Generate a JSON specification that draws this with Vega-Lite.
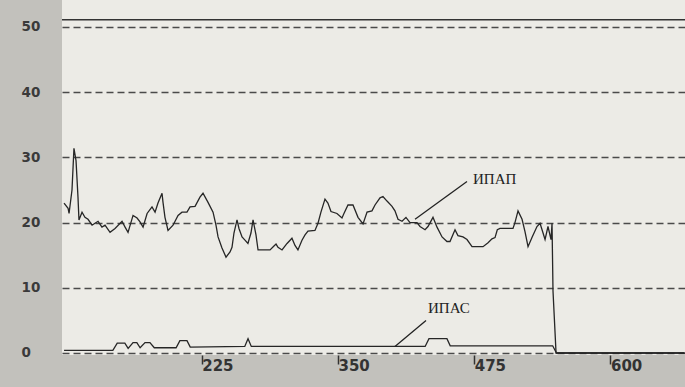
{
  "$schema": "https://vega.github.io/schema/vega-lite/v6.json",
  "width": 623,
  "height": 355,
  "autosize": {"type": "none"},
  "padding": {"left": 62, "top": 0, "right": 0, "bottom": 32},
  "background": "#c2c1bc",
  "config": {
    "view": {"fill": "#ecebe6", "stroke": null},
    "font": "DejaVu Sans"
  },
  "datasets": {
    "series": [
      {"t": 98.7, "v": 23.0, "s": "ИПАП"},
      {"t": 102.4, "v": 22.2, "s": "ИПАП"},
      {"t": 103.3, "v": 21.4, "s": "ИПАП"},
      {"t": 106.0, "v": 25.0, "s": "ИПАП"},
      {"t": 107.8, "v": 31.4, "s": "ИПАП"},
      {"t": 109.7, "v": 29.5, "s": "ИПАП"},
      {"t": 111.5, "v": 23.9, "s": "ИПАП"},
      {"t": 112.4, "v": 20.4, "s": "ИПАП"},
      {"t": 115.2, "v": 21.6, "s": "ИПАП"},
      {"t": 117.9, "v": 20.8, "s": "ИПАП"},
      {"t": 120.7, "v": 20.5, "s": "ИПАП"},
      {"t": 124.4, "v": 19.6, "s": "ИПАП"},
      {"t": 127.1, "v": 19.9, "s": "ИПАП"},
      {"t": 129.9, "v": 20.2, "s": "ИПАП"},
      {"t": 133.5, "v": 19.3, "s": "ИПАП"},
      {"t": 136.3, "v": 19.6, "s": "ИПАП"},
      {"t": 140.9, "v": 18.5, "s": "ИПАП"},
      {"t": 145.5, "v": 19.1, "s": "ИПАП"},
      {"t": 151.9, "v": 20.2, "s": "ИПАП"},
      {"t": 154.7, "v": 19.3, "s": "ИПАП"},
      {"t": 157.4, "v": 18.5, "s": "ИПАП"},
      {"t": 162.0, "v": 21.1, "s": "ИПАП"},
      {"t": 165.7, "v": 20.7, "s": "ИПАП"},
      {"t": 168.4, "v": 20.1, "s": "ИПАП"},
      {"t": 171.2, "v": 19.3, "s": "ИПАП"},
      {"t": 174.9, "v": 21.4, "s": "ИПАП"},
      {"t": 179.4, "v": 22.4, "s": "ИПАП"},
      {"t": 182.2, "v": 21.6, "s": "ИПАП"},
      {"t": 184.9, "v": 23.0, "s": "ИПАП"},
      {"t": 188.6, "v": 24.5, "s": "ИПАП"},
      {"t": 189.5, "v": 23.1, "s": "ИПАП"},
      {"t": 191.3, "v": 20.8, "s": "ИПАП"},
      {"t": 194.1, "v": 18.8, "s": "ИПАП"},
      {"t": 198.7, "v": 19.6, "s": "ИПАП"},
      {"t": 203.3, "v": 21.1, "s": "ИПАП"},
      {"t": 206.9, "v": 21.6, "s": "ИПАП"},
      {"t": 211.5, "v": 21.6, "s": "ИПАП"},
      {"t": 214.3, "v": 22.4, "s": "ИПАП"},
      {"t": 218.9, "v": 22.5, "s": "ИПАП"},
      {"t": 223.4, "v": 23.9, "s": "ИПАП"},
      {"t": 226.2, "v": 24.5, "s": "ИПАП"},
      {"t": 230.8, "v": 23.1, "s": "ИПАП"},
      {"t": 235.4, "v": 21.6, "s": "ИПАП"},
      {"t": 238.1, "v": 19.6, "s": "ИПАП"},
      {"t": 240.0, "v": 17.8, "s": "ИПАП"},
      {"t": 243.6, "v": 16.1, "s": "ИПАП"},
      {"t": 247.3, "v": 14.7, "s": "ИПАП"},
      {"t": 251.0, "v": 15.5, "s": "ИПАП"},
      {"t": 252.8, "v": 16.2, "s": "ИПАП"},
      {"t": 254.6, "v": 18.4, "s": "ИПАП"},
      {"t": 257.4, "v": 20.4, "s": "ИПАП"},
      {"t": 259.2, "v": 19.1, "s": "ИПАП"},
      {"t": 262.0, "v": 17.8, "s": "ИПАП"},
      {"t": 264.7, "v": 17.3, "s": "ИПАП"},
      {"t": 267.4, "v": 16.8, "s": "ИПАП"},
      {"t": 270.2, "v": 18.4, "s": "ИПАП"},
      {"t": 272.1, "v": 20.4, "s": "ИПАП"},
      {"t": 274.8, "v": 18.1, "s": "ИПАП"},
      {"t": 276.7, "v": 15.8, "s": "ИПАП"},
      {"t": 287.7, "v": 15.8, "s": "ИПАП"},
      {"t": 291.3, "v": 16.4, "s": "ИПАП"},
      {"t": 293.2, "v": 16.7, "s": "ИПАП"},
      {"t": 295.0, "v": 16.2, "s": "ИПАП"},
      {"t": 298.7, "v": 15.8, "s": "ИПАП"},
      {"t": 303.3, "v": 16.8, "s": "ИПАП"},
      {"t": 307.8, "v": 17.6, "s": "ИПАП"},
      {"t": 310.6, "v": 16.5, "s": "ИПАП"},
      {"t": 313.3, "v": 15.8, "s": "ИПАП"},
      {"t": 317.0, "v": 17.3, "s": "ИПАП"},
      {"t": 319.8, "v": 18.1, "s": "ИПАП"},
      {"t": 322.5, "v": 18.7, "s": "ИПАП"},
      {"t": 328.9, "v": 18.8, "s": "ИПАП"},
      {"t": 331.7, "v": 19.9, "s": "ИПАП"},
      {"t": 334.4, "v": 21.6, "s": "ИПАП"},
      {"t": 338.1, "v": 23.6, "s": "ИПАП"},
      {"t": 340.8, "v": 23.0, "s": "ИПАП"},
      {"t": 343.6, "v": 21.7, "s": "ИПАП"},
      {"t": 349.1, "v": 21.4, "s": "ИПАП"},
      {"t": 353.7, "v": 20.7, "s": "ИПАП"},
      {"t": 355.5, "v": 21.4, "s": "ИПАП"},
      {"t": 359.2, "v": 22.7, "s": "ИПАП"},
      {"t": 363.8, "v": 22.7, "s": "ИПАП"},
      {"t": 368.4, "v": 20.8, "s": "ИПАП"},
      {"t": 373.0, "v": 19.8, "s": "ИПАП"},
      {"t": 376.7, "v": 21.6, "s": "ИПАП"},
      {"t": 381.2, "v": 21.8, "s": "ИПАП"},
      {"t": 384.0, "v": 22.7, "s": "ИПАП"},
      {"t": 388.6, "v": 23.8, "s": "ИПАП"},
      {"t": 391.3, "v": 24.0, "s": "ИПАП"},
      {"t": 395.0, "v": 23.3, "s": "ИПАП"},
      {"t": 399.6, "v": 22.5, "s": "ИПАП"},
      {"t": 402.3, "v": 21.8, "s": "ИПАП"},
      {"t": 405.1, "v": 20.5, "s": "ИПАП"},
      {"t": 408.8, "v": 20.2, "s": "ИПАП"},
      {"t": 412.4, "v": 20.8, "s": "ИПАП"},
      {"t": 416.1, "v": 20.0, "s": "ИПАП"},
      {"t": 422.5, "v": 20.0, "s": "ИПАП"},
      {"t": 425.3, "v": 19.4, "s": "ИПАП"},
      {"t": 429.9, "v": 18.9, "s": "ИПАП"},
      {"t": 432.6, "v": 19.4, "s": "ИПАП"},
      {"t": 437.2, "v": 20.8, "s": "ИПАП"},
      {"t": 440.9, "v": 19.3, "s": "ИПАП"},
      {"t": 445.5, "v": 17.8, "s": "ИПАП"},
      {"t": 450.0, "v": 17.1, "s": "ИПАП"},
      {"t": 452.8, "v": 17.1, "s": "ИПАП"},
      {"t": 457.4, "v": 18.9, "s": "ИПАП"},
      {"t": 460.1, "v": 18.0, "s": "ИПАП"},
      {"t": 464.7, "v": 17.8, "s": "ИПАП"},
      {"t": 468.4, "v": 17.4, "s": "ИПАП"},
      {"t": 473.0, "v": 16.3, "s": "ИПАП"},
      {"t": 483.1, "v": 16.3, "s": "ИПАП"},
      {"t": 487.7, "v": 16.9, "s": "ИПАП"},
      {"t": 491.3, "v": 17.5, "s": "ИПАП"},
      {"t": 494.1, "v": 17.7, "s": "ИПАП"},
      {"t": 496.2, "v": 18.9, "s": "ИПАП"},
      {"t": 498.7, "v": 19.1, "s": "ИПАП"},
      {"t": 510.6, "v": 19.1, "s": "ИПАП"},
      {"t": 512.4, "v": 20.0, "s": "ИПАП"},
      {"t": 515.2, "v": 21.8, "s": "ИПАП"},
      {"t": 518.9, "v": 20.5, "s": "ИПАП"},
      {"t": 521.6, "v": 18.6, "s": "ИПАП"},
      {"t": 524.4, "v": 16.3, "s": "ИПАП"},
      {"t": 528.0, "v": 17.7, "s": "ИПАП"},
      {"t": 532.6, "v": 19.4, "s": "ИПАП"},
      {"t": 535.4, "v": 19.9, "s": "ИПАП"},
      {"t": 540.0, "v": 17.4, "s": "ИПАП"},
      {"t": 542.7, "v": 19.4, "s": "ИПАП"},
      {"t": 545.5, "v": 17.4, "s": "ИПАП"},
      {"t": 546.4, "v": 19.9, "s": "ИПАП"},
      {"t": 547.3, "v": 9.5, "s": "ИПАП"},
      {"t": 550.1, "v": 0.0, "s": "ИПАП"},
      {"t": 668.0, "v": 0.0, "s": "ИПАП"},
      {"t": 98.7, "v": 0.4, "s": "ИПАС"},
      {"t": 143.5, "v": 0.4, "s": "ИПАС"},
      {"t": 147.5, "v": 1.5, "s": "ИПАС"},
      {"t": 154.5, "v": 1.5, "s": "ИПАС"},
      {"t": 157.5, "v": 0.7, "s": "ИПАС"},
      {"t": 162.0, "v": 1.6, "s": "ИПАС"},
      {"t": 165.5, "v": 1.6, "s": "ИПАС"},
      {"t": 168.5, "v": 0.8, "s": "ИПАС"},
      {"t": 173.0, "v": 1.6, "s": "ИПАС"},
      {"t": 177.5, "v": 1.6, "s": "ИПАС"},
      {"t": 181.5, "v": 0.8, "s": "ИПАС"},
      {"t": 201.5, "v": 0.8, "s": "ИПАС"},
      {"t": 205.0, "v": 1.9, "s": "ИПАС"},
      {"t": 211.5, "v": 1.9, "s": "ИПАС"},
      {"t": 214.5, "v": 0.9, "s": "ИПАС"},
      {"t": 264.5, "v": 1.0, "s": "ИПАС"},
      {"t": 267.5, "v": 2.2, "s": "ИПАС"},
      {"t": 270.5, "v": 1.0, "s": "ИПАС"},
      {"t": 430.0, "v": 1.0, "s": "ИПАС"},
      {"t": 433.5, "v": 2.2, "s": "ИПАС"},
      {"t": 450.0, "v": 2.2, "s": "ИПАС"},
      {"t": 453.0, "v": 1.1, "s": "ИПАС"},
      {"t": 547.0, "v": 1.1, "s": "ИПАС"},
      {"t": 550.5, "v": 0.0, "s": "ИПАС"},
      {"t": 668.0, "v": 0.0, "s": "ИПАС"}
    ],
    "labels": [
      {"t": 473.9, "v": 26.7, "text": "ИПАП"},
      {"t": 432.6, "v": 6.9, "text": "ИПАС"}
    ],
    "leaders": [
      {"t": 468.4, "v": 26.3, "t2": 420.7, "v2": 20.5},
      {"t": 430.8, "v": 5.0, "t2": 402.3, "v2": 1.0}
    ]
  },
  "layer": [
    {
      "data": {"name": "series"},
      "mark": {"type": "line", "color": "#262626", "strokeWidth": 1.3, "clip": true},
      "encoding": {
        "x": {
          "field": "t", "type": "quantitative",
          "scale": {"domain": [96.83, 668.4], "nice": false, "zero": false},
          "axis": {
            "values": [225, 350, 475, 600],
            "title": null,
            "grid": false,
            "domain": false,
            "ticks": true,
            "tickSize": 9,
            "tickWidth": 1.5,
            "tickColor": "#333333",
            "labelAlign": "left",
            "labelBaseline": "top",
            "labelPadding": -6,
            "labelDx": 2,
            "labelFont": "DejaVu Sans",
            "labelFontWeight": "bold",
            "labelFontSize": 15,
            "labelColor": "#333333"
          }
        },
        "y": {
          "field": "v", "type": "quantitative",
          "scale": {"domain": [-0.31, 54.14], "nice": false, "zero": false},
          "axis": {
            "values": [0, 10, 20, 30, 40, 50],
            "title": null,
            "grid": true,
            "gridDash": [7, 4],
            "gridColor": "#4a4a4a",
            "gridWidth": 1.4,
            "domain": false,
            "ticks": false,
            "labelAlign": "left",
            "labelBaseline": "middle",
            "labelPadding": 41,
            "labelFont": "DejaVu Sans",
            "labelFontWeight": "bold",
            "labelFontSize": 13.5,
            "labelColor": "#3a3a3a"
          }
        },
        "detail": {"field": "s", "type": "nominal"}
      }
    },
    {
      "data": {"values": [{"frame": "top"}]},
      "mark": {"type": "rule", "color": "#333333", "strokeWidth": 1.5},
      "encoding": {"y": {"datum": 51.1}}
    },
    {
      "data": {"name": "leaders"},
      "mark": {"type": "rule", "color": "#222222", "strokeWidth": 1.3},
      "encoding": {
        "x": {"field": "t", "type": "quantitative"},
        "y": {"field": "v", "type": "quantitative"},
        "x2": {"field": "t2"},
        "y2": {"field": "v2"}
      }
    },
    {
      "data": {"name": "labels"},
      "mark": {"type": "text", "align": "left", "baseline": "middle", "font": "Liberation Serif", "fontSize": 15, "color": "#222222"},
      "encoding": {
        "x": {"field": "t", "type": "quantitative"},
        "y": {"field": "v", "type": "quantitative"},
        "text": {"field": "text"}
      }
    }
  ]
}
